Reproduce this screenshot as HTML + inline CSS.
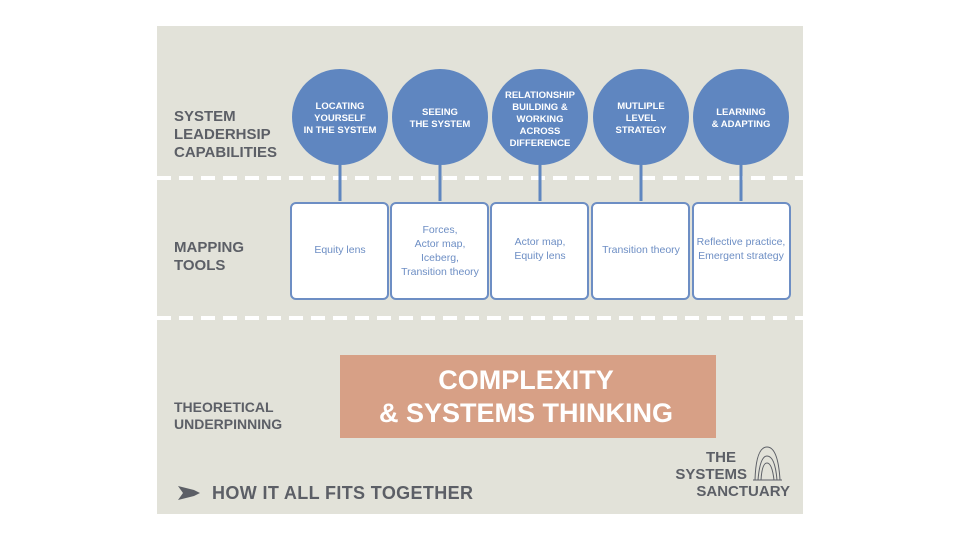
<!DOCTYPE html>
<html><head><meta charset="utf-8"><style>
html,body{margin:0;padding:0;background:#fff;width:960px;height:540px;overflow:hidden}
svg{display:block}
.l{font-family:"Liberation Sans",sans-serif;font-weight:bold;fill:#5c5f66;font-size:15px}
.c{font-family:"Liberation Sans",sans-serif;font-weight:bold;fill:#fff;font-size:9.5px;text-anchor:middle}
.b{font-family:"Liberation Sans",sans-serif;fill:#6d8ec4;font-size:10.5px;text-anchor:middle}
</style></head><body>
<svg width="960" height="540" viewBox="0 0 960 540">
<rect x="157" y="26" width="646" height="488" fill="#e2e2d9"/>
<line x1="157" y1="178" x2="803" y2="178" stroke="#fff" stroke-width="4" stroke-dasharray="14,8"/>
<line x1="157" y1="318" x2="803" y2="318" stroke="#fff" stroke-width="4" stroke-dasharray="14,8"/>
<text class="l" x="174" y="121">SYSTEM</text>
<text class="l" x="174" y="139">LEADERHSIP</text>
<text class="l" x="174" y="157">CAPABILITIES</text>
<text class="l" x="174" y="252">MAPPING</text>
<text class="l" x="174" y="270">TOOLS</text>
<text class="l" x="174" y="412" style="font-size:14px">THEORETICAL</text>
<text class="l" x="174" y="429" style="font-size:14px">UNDERPINNING</text>
<g stroke="#5f86c0" stroke-width="3">
<line x1="340" y1="165" x2="340" y2="201"/><line x1="440" y1="165" x2="440" y2="201"/><line x1="540" y1="165" x2="540" y2="201"/><line x1="641" y1="165" x2="641" y2="201"/><line x1="741" y1="165" x2="741" y2="201"/>
</g>
<g fill="#5f86c0">
<circle cx="340" cy="117" r="48"/><circle cx="440" cy="117" r="48"/><circle cx="540" cy="117" r="48"/><circle cx="641" cy="117" r="48"/><circle cx="741" cy="117" r="48"/>
</g>
<text class="c" x="340" y="109">LOCATING</text><text class="c" x="340" y="121">YOURSELF</text><text class="c" x="340" y="133">IN THE SYSTEM</text>
<text class="c" x="440" y="115">SEEING</text><text class="c" x="440" y="127">THE SYSTEM</text>
<text class="c" x="540" y="98">RELATIONSHIP</text><text class="c" x="540" y="110">BUILDING &amp;</text><text class="c" x="540" y="122">WORKING</text><text class="c" x="540" y="134">ACROSS</text><text class="c" x="540" y="146">DIFFERENCE</text>
<text class="c" x="641" y="109">MUTLIPLE</text><text class="c" x="641" y="121">LEVEL</text><text class="c" x="641" y="133">STRATEGY</text>
<text class="c" x="741" y="115">LEARNING</text><text class="c" x="741" y="127">&amp; ADAPTING</text>
<g fill="#fff" stroke="#6d8ec4" stroke-width="2">
<rect x="291" y="203" width="97" height="96" rx="5"/><rect x="391" y="203" width="97" height="96" rx="5"/><rect x="491" y="203" width="97" height="96" rx="5"/><rect x="592" y="203" width="97" height="96" rx="5"/><rect x="693" y="203" width="97" height="96" rx="5"/>
</g>
<text class="b" x="340" y="253">Equity lens</text>
<text class="b" x="440" y="233">Forces,</text><text class="b" x="440" y="247">Actor map,</text><text class="b" x="440" y="261">Iceberg,</text><text class="b" x="440" y="275">Transition theory</text>
<text class="b" x="540" y="245">Actor map,</text><text class="b" x="540" y="259">Equity lens</text>
<text class="b" x="641" y="253">Transition theory</text>
<text class="b" x="741" y="245">Reflective practice,</text><text class="b" x="741" y="259">Emergent strategy</text>
<rect x="340" y="355" width="376" height="83" fill="#d7a086"/>
<text x="526" y="389" text-anchor="middle" font-family="Liberation Sans,sans-serif" font-weight="bold" font-size="27" fill="#fff">COMPLEXITY</text>
<text x="526" y="422" text-anchor="middle" font-family="Liberation Sans,sans-serif" font-weight="bold" font-size="27" fill="#fff">&amp; SYSTEMS THINKING</text>
<path d="M178 486 L194 490 L200 493 L194 496 L178 500 L183 493 Z" fill="#5c5f66"/>
<text class="l" x="212" y="499" style="font-size:18px" textLength="261">HOW IT ALL FITS TOGETHER</text>
<text class="l" x="736" y="462" text-anchor="end" style="font-size:15px">THE</text>
<text class="l" x="747" y="479" text-anchor="end" style="font-size:15px">SYSTEMS</text>
<text class="l" x="790" y="496" text-anchor="end" style="font-size:15px">SANCTUARY</text>
<g fill="none" stroke="#5c5f66" stroke-width="1">
<path d="M755 480 Q756 447 767 447 Q778 447 780 480"/>
<path d="M758 480 Q760 456 767 456 Q775 456 777 480"/>
<path d="M761 480 Q762 463 767 463 Q772 463 774 480"/>
<line x1="753" y1="480" x2="782" y2="480"/>
</g>
</svg>
</body></html>
